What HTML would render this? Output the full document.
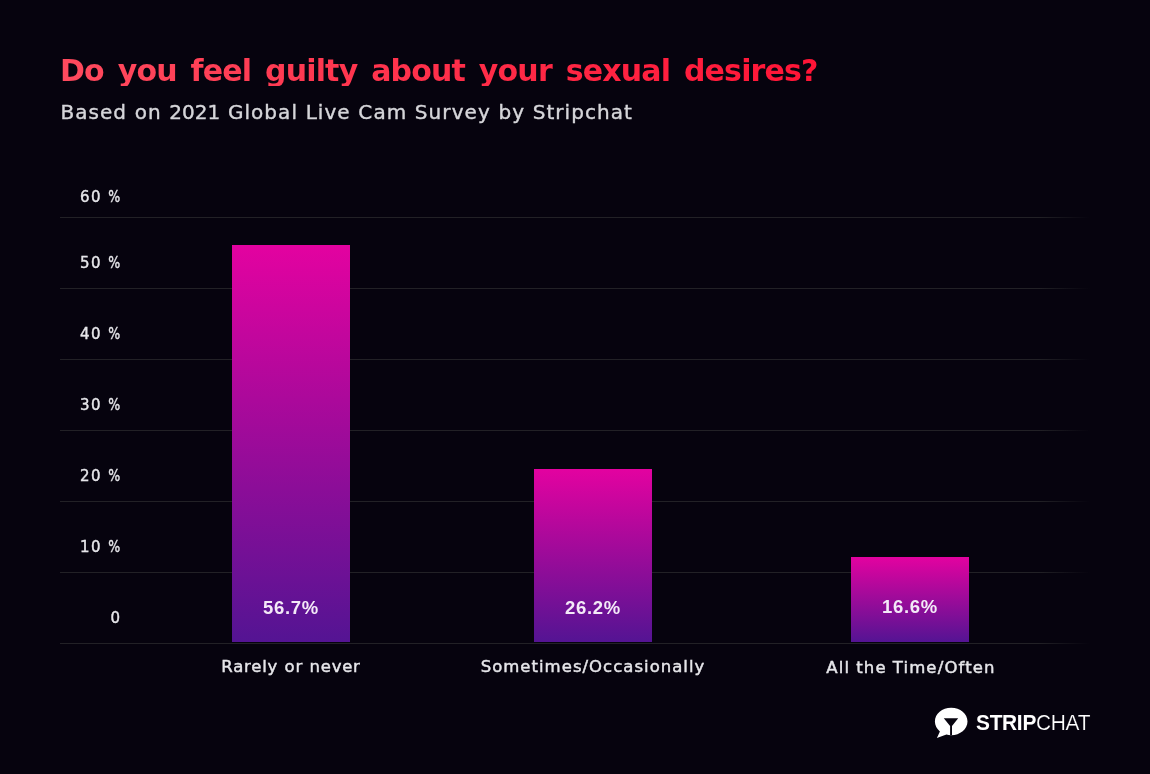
<!DOCTYPE html>
<html lang="en">
<head>
<meta charset="utf-8">
<title>Do you feel guilty about your sexual desires?</title>
<style>
  html,body{margin:0;padding:0;}
  body{width:1150px;height:774px;background:#06030e;overflow:hidden;position:relative;
       font-family:"Liberation Sans",sans-serif;}
  .abs{position:absolute;white-space:nowrap;line-height:1;}
  #title{left:60px;top:56px;font-family:"DejaVu Sans","Liberation Sans",sans-serif;font-size:30px;font-weight:700;letter-spacing:-0.83px;word-spacing:4.2px;
         background:linear-gradient(90deg,#ff4a5e 0%,#ff1436 100%);-webkit-background-clip:text;background-clip:text;color:transparent;}
  #sub{left:60.4px;top:102px;font-family:"DejaVu Sans","Liberation Sans",sans-serif;font-size:20px;color:#d6d6da;-webkit-text-stroke:0.4px #d6d6da;letter-spacing:1.06px;word-spacing:0.2px;}
  #sub span{letter-spacing:0;}
  .grid{position:absolute;left:60px;width:1030px;height:1px;
        background:linear-gradient(90deg,#222126 0%,#222126 95%,rgba(34,33,38,0) 100%);}
  .yl{right:1030px;font-family:"DejaVu Sans","Liberation Sans",sans-serif;font-size:15px;color:#e6e6ea;text-align:right;-webkit-text-stroke:0.4px #e6e6ea;letter-spacing:1.5px;word-spacing:-2.5px;}
  .pc{display:inline-block;letter-spacing:0;transform:scaleX(.84);transform-origin:100% 50%;}
  .bar{position:absolute;width:118px;background:linear-gradient(180deg,#e302a0 0%,#541493 100%);}
  .val{font-size:18.5px;font-weight:700;color:#f3e9f7;width:118px;text-align:center;letter-spacing:0.7px;}
  .xl{font-family:"DejaVu Sans","Liberation Sans",sans-serif;font-size:16.5px;color:#e6e6ea;text-align:center;width:300px;-webkit-text-stroke:0.45px #e6e6ea;}
  #logo{left:975.7px;top:712px;font-size:22.2px;color:#fff;letter-spacing:-0.3px;transform:scaleX(0.94);transform-origin:0 0;}
  #logo b{font-weight:700;}
  #logo span{-webkit-text-stroke:0.22px #06030e;}
</style>
</head>
<body>
<div id="title" class="abs">Do you feel guilty about your sexual desires?</div>
<div id="sub" class="abs">Based on <span>2021</span> Global Live Cam Survey by Stripchat</div>

<div class="grid" style="top:217px"></div>
<div class="grid" style="top:288px"></div>
<div class="grid" style="top:359px"></div>
<div class="grid" style="top:430px"></div>
<div class="grid" style="top:501px"></div>
<div class="grid" style="top:572px"></div>
<div class="grid" style="top:643px"></div>

<div class="abs yl" style="top:190px">60 <span class="pc">%</span></div>
<div class="abs yl" style="top:256px">50 <span class="pc">%</span></div>
<div class="abs yl" style="top:327px">40 <span class="pc">%</span></div>
<div class="abs yl" style="top:398px">30 <span class="pc">%</span></div>
<div class="abs yl" style="top:469px">20 <span class="pc">%</span></div>
<div class="abs yl" style="top:540px">10 <span class="pc">%</span></div>
<div class="abs yl" style="top:611px;right:1028.5px">0</div>

<div class="bar" style="left:232px;top:245px;height:397px"></div>
<div class="bar" style="left:534px;top:469px;height:173px"></div>
<div class="bar" style="left:851px;top:557px;height:85px"></div>

<div class="abs val" style="left:232px;top:599px">56.7%</div>
<div class="abs val" style="left:534px;top:599px">26.2%</div>
<div class="abs val" style="left:851px;top:598px">16.6%</div>

<div class="abs xl" style="left:141px;top:659px;letter-spacing:0.77px;word-spacing:0.5px">Rarely or never</div>
<div class="abs xl" style="left:443px;top:659px;letter-spacing:1.02px">Sometimes/Occasionally</div>
<div class="abs xl" style="left:761px;top:660px;letter-spacing:1.15px;word-spacing:-0.4px">All the Time/Often</div>

<svg class="abs" style="left:930px;top:704px" width="44" height="38" viewBox="930 704 44 38">
  <path fill="#fff" d="M951.2 707.8c-9 0-16.3 6.1-16.3 13.7 0 3.9 1.9 7.4 5 9.9l-3 6.7 9.5-3.5c1.5 0.4 3.1 0.6 4.8 0.6 9 0 16.3-6.1 16.3-13.7s-7.3-13.7-16.3-13.7z"/>
  <path fill="#07040f" d="M943.8 718.3h14.4l-6.2 7.6v9.4h-1.9v-9.4z"/>
</svg>
<div id="logo" class="abs"><b>STRIP</b><span>CHAT</span></div>
</body>
</html>
